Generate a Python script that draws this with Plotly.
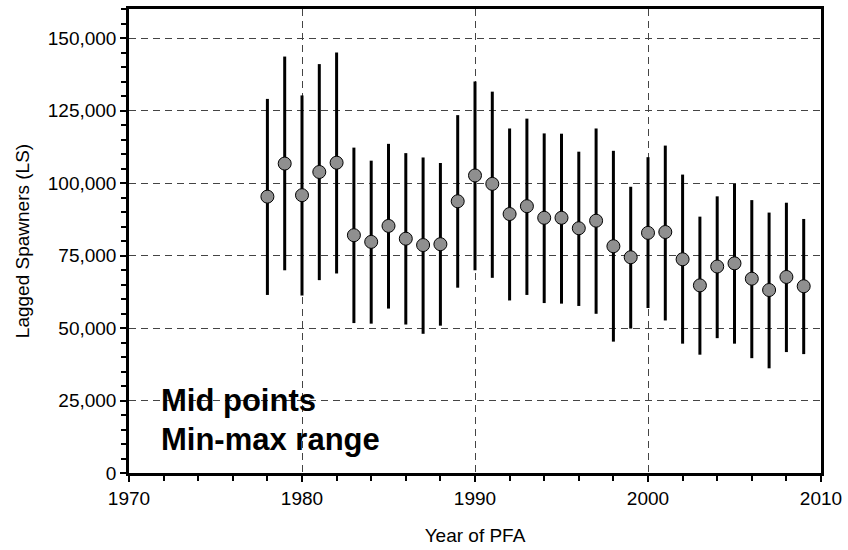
import plotly.graph_objects as go

years = list(range(1978, 2010))
mid = [95300, 106700, 95800, 103800, 107000, 82000, 79700, 85200, 80800, 78600, 78900, 93700,
       102600, 99700, 89300, 92000, 88000, 88000, 84400, 87000, 78200, 74400, 82800, 83100,
       73700, 64700, 71200, 72300, 67000, 63100, 67600, 64400]
hi = [129000, 143600, 130200, 141000, 145000, 112200, 107700, 113500, 110300, 108800, 106900, 123400,
      135000, 131500, 118800, 122200, 117100, 117000, 110800, 118800, 111100, 98700, 108900, 112900,
      102900, 88400, 95400, 99700, 94100, 89800, 93200, 87600]
lo = [61400, 69900, 61200, 66500, 68800, 51700, 51500, 56700, 51200, 48000, 50800, 63900,
      69900, 67300, 59500, 61400, 58600, 58400, 57600, 54900, 45300, 49800, 56900, 52600,
      44600, 40800, 46500, 44600, 39600, 36100, 41700, 41000]

x_ticks = [1970, 1980, 1990, 2000, 2010]
y_ticks = [0, 25000, 50000, 75000, 100000, 125000, 150000]
labels = ["Mid points", "Min-max range"]

FONT = "Arial, 'Liberation Sans', sans-serif"

fig = go.Figure()
fig.add_trace(go.Scatter(
    x=years, y=mid, mode="markers",
    marker=dict(size=13, color="#8f8f8f", line=dict(color="black", width=1)),
    error_y=dict(type="data", symmetric=False,
                 array=[h - m for h, m in zip(hi, mid)],
                 arrayminus=[m - l for m, l in zip(mid, lo)],
                 color="black", thickness=3, width=0),
    showlegend=False,
))

fig.add_annotation(text="<b>" + labels[0] + "</b>", xref="paper", yref="paper",
                   x=0.044, y=0.1555, xanchor="left", yanchor="middle", showarrow=False,
                   font=dict(family=FONT, size=31, color="black"))
fig.add_annotation(text="<b>" + labels[1] + "</b>", xref="paper", yref="paper",
                   x=0.044, y=0.0724, xanchor="left", yanchor="middle", showarrow=False,
                   font=dict(family=FONT, size=31, color="black"))

axis_common = dict(
    showline=True, linecolor="black", linewidth=2.5, mirror=True,
    ticks="outside", ticklen=6, tickwidth=2, tickcolor="black",
    showgrid=True, gridcolor="#444444", gridwidth=1, griddash="7px,5px",
    zeroline=False,
    tickfont=dict(family=FONT, size=19, color="black"),
)

fig.update_xaxes(range=[1970, 2010], tickvals=x_ticks,
                 title=dict(text="Year of PFA", font=dict(family=FONT, size=19, color="black"), standoff=22),
                 minor=dict(dtick=2, tick0=1970, ticks="outside", ticklen=5, tickwidth=2, tickcolor="black", showgrid=False),
                 **axis_common)
fig.update_yaxes(range=[0, 160000], tickvals=y_ticks, tickformat=",d",
                 title=dict(text="Lagged Spawners (LS)", font=dict(family=FONT, size=19, color="black"), standoff=14),
                 minor=dict(dtick=5000, tick0=0, ticks="outside", ticklen=5, tickwidth=2, tickcolor="black", showgrid=False),
                 **axis_common)

fig.update_layout(
    width=848, height=550,
    margin=dict(l=129, r=23, t=6, b=75),
    plot_bgcolor="white", paper_bgcolor="white",
    font=dict(family=FONT, color="black"),
)

fig.write_html("out.html")
